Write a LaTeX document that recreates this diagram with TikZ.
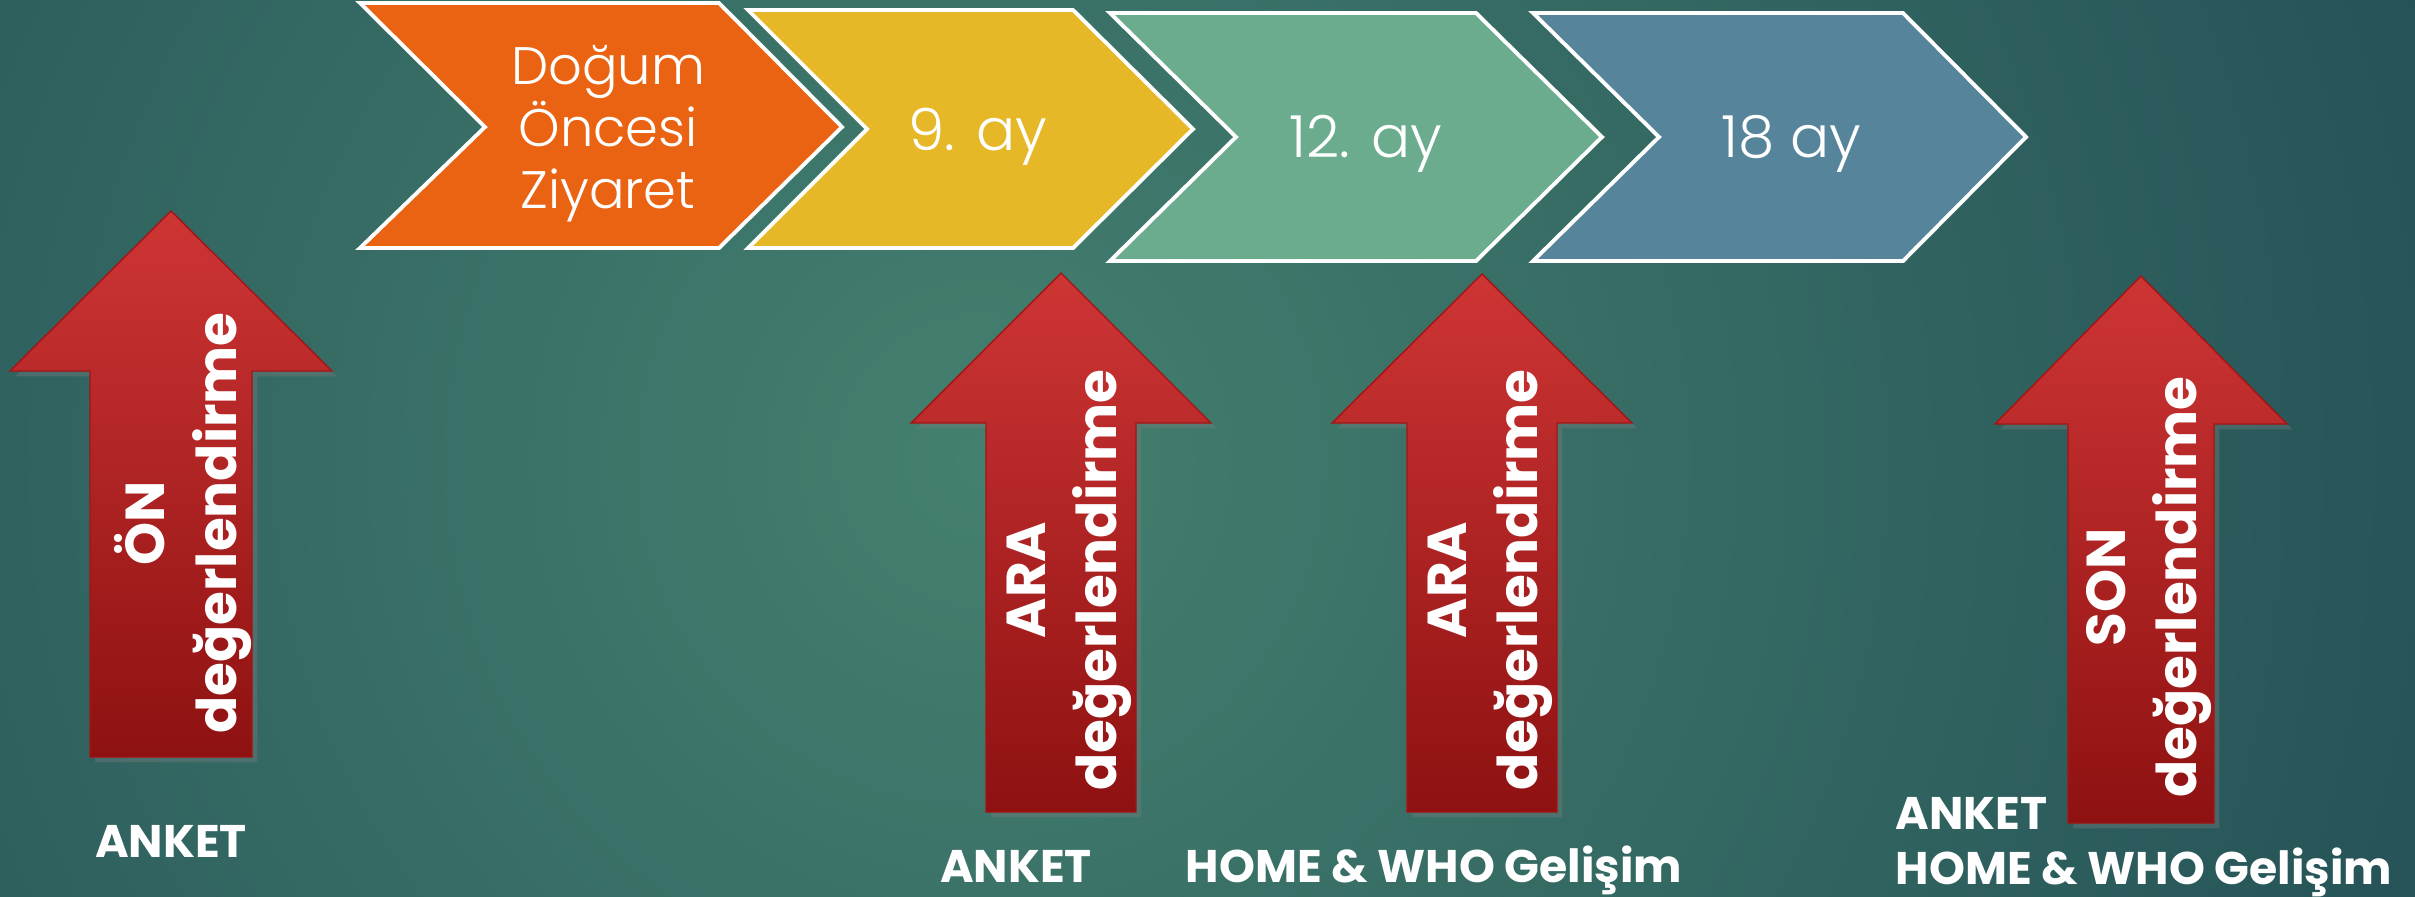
\documentclass[tikz,border=0pt]{standalone}
\usepackage{fontspec}
\setmainfont{Poppins}
\newfontfamily\lightfont{Poppins Light}
\usetikzlibrary{shadows}
\definecolor{bgin}{HTML}{44806F}
\definecolor{bgout}{HTML}{183F4D}
\definecolor{chorange}{HTML}{E96312}
\definecolor{chyellow}{HTML}{E6B828}
\definecolor{chgreen}{HTML}{6BAC8F}
\definecolor{chblue}{HTML}{56849B}
\definecolor{artop}{HTML}{CE3535}
\definecolor{arbot}{HTML}{8E1111}
\definecolor{arline}{HTML}{A51414}
\tikzset{chev/.append style={draw=white, line width=1.1pt, line join=miter}}
\tikzset{redarr/.append style={draw=arline, line width=0.4pt, top color=artop, bottom color=arbot,
    drop shadow={opacity=0.35, shadow xshift=1.5pt, shadow yshift=-1.5pt}}}
\tikzset{chtxt/.append style={text=white, font=\lightfont\fontsize{15}{17.6}\selectfont, align=center, inner sep=0pt}}
\tikzset{mtxt/.append style={text=white, font=\lightfont\fontsize{16.5}{20}\selectfont, inner sep=0pt, anchor=base}}
\tikzset{artxt/.append style={text=white, font=\bfseries\fontsize{15.6}{20.2}\selectfont, align=center, rotate=90, inner sep=0pt}}
\tikzset{lbl/.append style={text=white, font=\bfseries\fontsize{13}{15}\selectfont, inner sep=0pt, anchor=base}}

\begin{document}
\begin{tikzpicture}[x=0.01cm, y=-0.01cm]
                \useasboundingbox (0,0) rectangle (2415,896);
                % background
                \fill[bgout] (0,0) rectangle (2415,896);
                \begin{scope}
                \clip (0,0) rectangle (2415,896);
                \shade[inner color=bgin, outer color=bgout] (980,460) circle (2150);
                \end{scope}
                % chevrons
                \path[chev, fill=chorange] (360,3) -- (719,3) -- (842,127) -- (719,248) -- (360,248) -- (485,127) -- cycle;
                \path[chev, fill=chyellow] (748,10) -- (1073,10) -- (1193,129) -- (1073,248) -- (748,248) -- (867,129) -- cycle;
                \path[chev, fill=chgreen] (1110,13) -- (1476,13) -- (1602,137) -- (1476,261) -- (1110,261) -- (1236,137) -- cycle;
                \path[chev, fill=chblue] (1533,13) -- (1903,13) -- (2026,137) -- (1903,261) -- (1533,261) -- (1659,137) -- cycle;
                \node[chtxt] (dogum) at (608,134) {Doğum\\Öncesi\\Ziyaret};
                \node[mtxt] (ay9) at (978,150) {9. ay};
                \node[mtxt] (ay12) at (1366,157) {12. ay};
                \node[mtxt] (ay18) at (1791,157) {18 ay};
                % arrows
                \path[redarr] (171,211) -- (332,371) -- (252,371) -- (252,757) -- (90,757) -- (90,371) -- (10,371) -- cycle;
                \path[redarr] (1061,273) -- (1211,423) -- (1136,423) -- (1136,812) -- (986,812) -- (986,423) -- (911,423) -- cycle;
                \path[redarr] (1482,274) -- (1632,423) -- (1557,423) -- (1557,812) -- (1407,812) -- (1407,423) -- (1332,423) -- cycle;
                \path[redarr] (2141,276) -- (2287,424) -- (2214,424) -- (2214,823) -- (2068,823) -- (2068,424) -- (1995,424) -- cycle;
                \node[artxt] (on) at (183,523) {ÖN\\değerlendirme};
                \node[artxt] (araa) at (1069,580) {ARA\\değerlendirme};
                \node[artxt] (arab) at (1490,580) {ARA\\değerlendirme};
                \node[artxt] (son) at (2149,587) {SON\\değerlendirme};
                % labels
                \node[lbl] (anketa) at (171,857) {ANKET};
                \node[lbl] (anketb) at (1016,882) {ANKET};
                \node[lbl] (homeb) at (1434,882) {HOME \& WHO Gelişim};
                \node[lbl, anchor=base west] (anketc) at (1895,829) {ANKET};
                \node[lbl, anchor=base west] (homec) at (1895,884) {HOME \& WHO Gelişim};
            \end{tikzpicture}
\end{document}
